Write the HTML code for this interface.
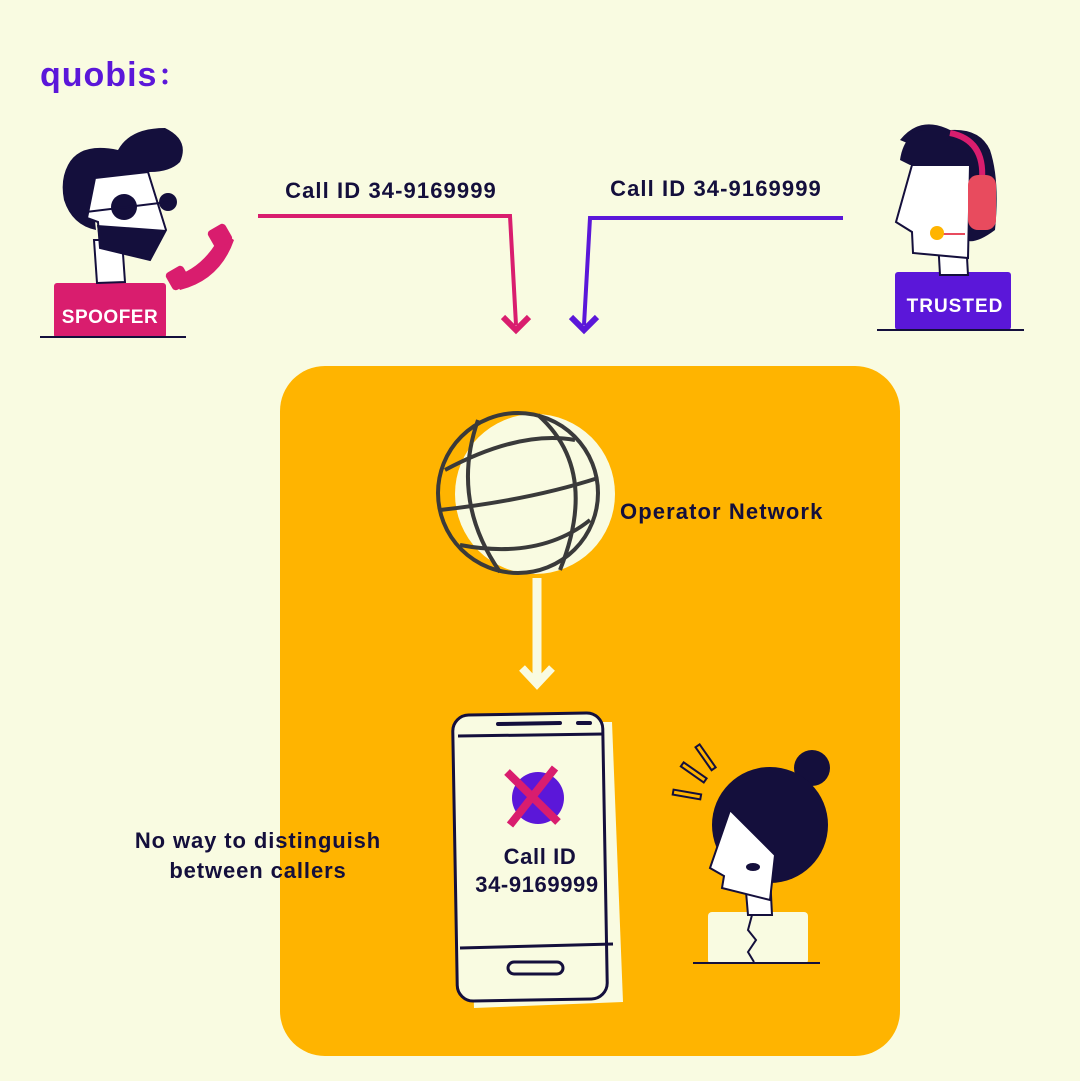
<!DOCTYPE html>
<html><head><meta charset="utf-8"><style>
html,body{margin:0;padding:0;background:#f9fbe1;}
svg{display:block}
text{font-family:"Liberation Sans",sans-serif;font-weight:bold;}
</style></head><body>
<svg width="1080" height="1081" viewBox="0 0 1080 1081" xmlns="http://www.w3.org/2000/svg">
<rect width="1080" height="1081" fill="#f9fbe1"/>
<text x="40" y="86" font-size="34" fill="#5b17d9" font-weight="normal" letter-spacing="1">quobis</text>
<circle cx="165" cy="71" r="2.5" fill="#5b17d9"/><circle cx="165" cy="82" r="2.5" fill="#5b17d9"/>

<!-- spoofer -->
<rect x="54" y="283" width="112" height="55" rx="3" fill="#d91d6e"/>
<text x="110" y="323" font-size="19" fill="#fff" text-anchor="middle" letter-spacing="0.5">SPOOFER</text>
<line x1="40" y1="337" x2="186" y2="337" stroke="#140f3c" stroke-width="2"/>
<polygon points="94,240 97,283 125,282 122,240" fill="#fff" stroke="#140f3c" stroke-width="2"/>
<path d="M68,165 Q80,142 118,150 Q130,128 165,128 Q190,140 180,162 Q170,172 150,172 L100,180 Q92,200 96,230 Q72,225 64,200 Q60,180 68,165Z" fill="#140f3c"/>
<polygon points="95,178 148,172 166,230 150,260 100,248 98,222 87,218" fill="#fff" stroke="#140f3c" stroke-width="2"/>
<polygon points="97,225 166,230 150,260 100,248" fill="#140f3c"/>
<circle cx="124" cy="207" r="13" fill="#140f3c"/><circle cx="168" cy="202" r="9" fill="#140f3c"/>
<line x1="86" y1="212" x2="168" y2="202" stroke="#140f3c" stroke-width="2"/>
<path d="M172,277 Q205,268 222,232 L234,240 Q220,280 180,290Z" fill="#d91d6e"/>
<rect x="168" y="268" width="20" height="20" rx="4" fill="#d91d6e" transform="rotate(-30 178 278)"/>
<rect x="210" y="226" width="20" height="20" rx="4" fill="#d91d6e" transform="rotate(-30 220 236)"/>

<!-- trusted -->
<rect x="895" y="272" width="116" height="58" rx="3" fill="#5b17d9"/>
<text x="955" y="312" font-size="19" fill="#fff" font-weight="normal" text-anchor="middle" letter-spacing="1">TRUSTED</text>
<line x1="877" y1="330" x2="1024" y2="330" stroke="#140f3c" stroke-width="2"/>
<polygon points="938,240 940,275 968,275 966,240" fill="#fff" stroke="#140f3c" stroke-width="2"/>
<path d="M900,140 Q920,115 950,130 Q980,128 990,150 Q1000,180 995,230 Q975,245 965,240 L960,165 Z" fill="#140f3c"/>
<path d="M900,160 Q905,125 940,130 L965,165 L910,165Z" fill="#140f3c"/>
<polygon points="912,165 970,165 968,258 913,253 912,232 896,222" fill="#fff" stroke="#140f3c" stroke-width="2"/>
<path d="M950,133 Q985,140 982,180" stroke="#d91d6e" stroke-width="6" fill="none"/>
<rect x="968" y="175" width="28" height="55" rx="10" fill="#e84b5e"/>
<line x1="938" y1="234" x2="965" y2="234" stroke="#e84b5e" stroke-width="2"/>
<circle cx="937" cy="233" r="7" fill="#ffb400"/>

<!-- labels & arrows -->
<text x="391" y="198" font-size="22" fill="#140f3c" text-anchor="middle" letter-spacing="1.1">Call ID 34-9169999</text>
<text x="716" y="196" font-size="22" fill="#140f3c" text-anchor="middle" letter-spacing="1.1">Call ID 34-9169999</text>
<polyline points="258,216 510,216 516,325" fill="none" stroke="#d91d6e" stroke-width="4"/>
<polyline points="503,317 516,330 529,317" fill="none" stroke="#d91d6e" stroke-width="6"/>
<polyline points="843,218 590,218 584,325" fill="none" stroke="#5b17d9" stroke-width="4"/>
<polyline points="571,317 584,330 597,317" fill="none" stroke="#5b17d9" stroke-width="6"/>

<!-- main box -->
<rect x="280" y="366" width="620" height="690" rx="45" fill="#ffb400"/>
<circle cx="535" cy="494" r="80" fill="#f9fbe1"/>
<g fill="none" stroke="#3a3a3a" stroke-width="4">
<circle cx="518" cy="493" r="80"/>
<path d="M478,420 Q450,500 500,572"/>
<path d="M538,415 Q600,470 560,570"/>
<path d="M445,470 Q520,430 575,440"/>
<path d="M440,510 Q530,500 598,478"/>
<path d="M460,545 Q540,560 590,520"/>
</g>
<text x="620" y="519" font-size="22" fill="#140f3c" letter-spacing="1.1">Operator Network</text>
<line x1="537" y1="578" x2="537" y2="680" stroke="#f9fbe1" stroke-width="9"/>
<polyline points="522,668 537,684 552,668" fill="none" stroke="#f9fbe1" stroke-width="8"/>

<!-- phone -->
<polygon points="466,722 612,722 623,1002 474,1008" fill="#f9fbe1"/>
<rect x="455" y="714" width="150" height="286" rx="16" fill="#f9fbe1" stroke="#140f3c" stroke-width="3" transform="rotate(-1 530 857)"/>
<line x1="458" y1="736" x2="604" y2="734" stroke="#140f3c" stroke-width="3"/>
<line x1="460" y1="948" x2="613" y2="944" stroke="#140f3c" stroke-width="3"/>
<line x1="498" y1="724" x2="560" y2="723" stroke="#140f3c" stroke-width="4" stroke-linecap="round"/>
<line x1="578" y1="723" x2="590" y2="723" stroke="#140f3c" stroke-width="4" stroke-linecap="round"/>
<rect x="508" y="962" width="55" height="12" rx="6" fill="none" stroke="#140f3c" stroke-width="3"/>
<circle cx="538" cy="798" r="26" fill="#5b17d9"/>
<line x1="507" y1="772" x2="558" y2="822" stroke="#d91d6e" stroke-width="8"/>
<line x1="555" y1="768" x2="510" y2="825" stroke="#d91d6e" stroke-width="8"/>
<text x="540" y="864" font-size="22" fill="#140f3c" text-anchor="middle" letter-spacing="0.6">Call ID</text>
<text x="537" y="892" font-size="22" fill="#140f3c" text-anchor="middle" letter-spacing="0.6">34-9169999</text>
<text x="258" y="848" font-size="22" fill="#140f3c" text-anchor="middle" letter-spacing="0.9">No way to distinguish</text>
<text x="258" y="878" font-size="22" fill="#140f3c" text-anchor="middle" letter-spacing="0.9">between callers</text>

<!-- woman -->
<rect x="708" y="912" width="100" height="52" rx="4" fill="#f9fbe1"/>
<line x1="693" y1="963" x2="820" y2="963" stroke="#140f3c" stroke-width="2"/>
<polyline points="752,915 748,930 756,940 748,952 754,962" fill="none" stroke="#140f3c" stroke-width="2"/>
<polygon points="745,880 748,915 772,915 770,875" fill="#fff" stroke="#140f3c" stroke-width="2"/>
<circle cx="812" cy="768" r="18" fill="#140f3c"/>
<circle cx="770" cy="825" r="58" fill="#140f3c"/>
<polygon points="730,810 775,855 770,900 722,888 724,876 710,868" fill="#fff" stroke="#140f3c" stroke-width="2"/>
<ellipse cx="753" cy="867" rx="7" ry="4" fill="#140f3c"/>
<g fill="none" stroke="#140f3c" stroke-width="2">
<rect x="673" y="792" width="28" height="5" transform="rotate(10 687 794)"/>
<rect x="680" y="770" width="28" height="5" transform="rotate(35 694 772)"/>
<rect x="692" y="755" width="28" height="5" transform="rotate(55 706 757)"/>
</g>
</svg>
</body></html>
